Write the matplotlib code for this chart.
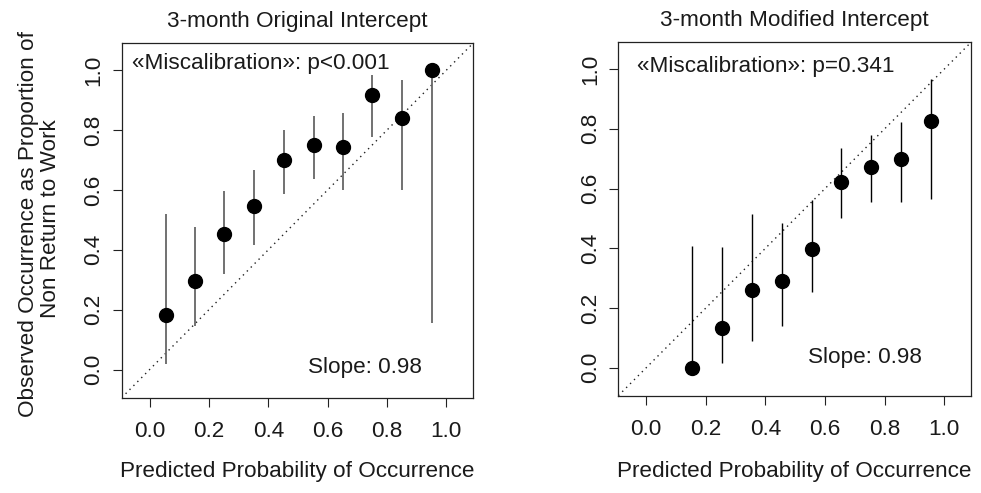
import matplotlib
matplotlib.use("Agg")
import matplotlib.pyplot as plt
import numpy as np

plt.rcParams['font.family'] = ['Liberation Sans', 'DejaVu Sans']

# ---- data ----
titles = ["3-month Original Intercept", "3-month Modified Intercept"]
pred_orig = [0.055, 0.153, 0.251, 0.352, 0.452, 0.555, 0.651, 0.751, 0.851, 0.952]
obs_orig = [0.182, 0.295, 0.452, 0.545, 0.699, 0.750, 0.744, 0.917, 0.839, 1.000]
lo_orig = [0.020, 0.147, 0.319, 0.416, 0.585, 0.635, 0.601, 0.777, 0.601, 0.157]
hi_orig = [0.520, 0.475, 0.597, 0.668, 0.799, 0.846, 0.858, 0.984, 0.968, 1.000]

pred_mod = [0.152, 0.253, 0.355, 0.455, 0.556, 0.653, 0.754, 0.855, 0.955]
obs_mod = [0.000, 0.133, 0.261, 0.289, 0.399, 0.622, 0.672, 0.699, 0.825]
lo_mod = [0.000, 0.015, 0.088, 0.140, 0.253, 0.501, 0.554, 0.554, 0.566]
hi_mod = [0.409, 0.405, 0.516, 0.484, 0.561, 0.735, 0.779, 0.823, 0.966]

misc_labels = ["\u00abMiscalibration\u00bb: p<0.001", "\u00abMiscalibration\u00bb: p=0.341"]
slope_labels = ["Slope: 0.98", "Slope: 0.98"]
ticks = [0.0, 0.2, 0.4, 0.6, 0.8, 1.0]
tick_labels = ["0.0", "0.2", "0.4", "0.6", "0.8", "1.0"]
xlabel = "Predicted Probability of Occurrence"
ylabel1 = "Observed Occurrence as Proportion of"
ylabel2 = "Non Return to Work"

W, H = 981, 493
fig = plt.figure(figsize=(W / 100, H / 100), dpi=100)
FS = 16.2

def px_rect(x0, y0, x1, y1):
    return [x0 / W, 1 - y1 / H, (x1 - x0) / W, (y1 - y0) / H]

axes = [fig.add_axes(px_rect(121.7, 43.3, 473, 397.7)),
        fig.add_axes(px_rect(618.3, 42.3, 971, 395.7))]

panels = [
    (pred_orig, obs_orig, lo_orig, hi_orig, '#666666', 1.3, (-0.059, 1.003), (0.533, -0.011)),
    (pred_mod, obs_mod, lo_mod, hi_mod, 'black', 1.0, (-0.030, 0.989), (0.543, 0.015)),
]

for i, (ax, (px, ob, lo, hi, ecol, elw, mpos, spos)) in enumerate(zip(axes, panels)):
    ax.set_xlim(-0.094, 1.09)
    ax.set_ylim(-0.094, 1.09)
    ax.axline((0, 0), slope=1, color='#222222', lw=1.0, linestyle=(0, (1, 3)), zorder=1)
    ax.vlines(px, lo, hi, color=ecol, lw=elw, zorder=2)
    ax.plot(px, ob, 'o', color='black', markersize=10, zorder=3)
    ax.set_xticks(ticks)
    ax.set_xticklabels(tick_labels)
    ax.set_yticks(ticks)
    ax.set_yticklabels(tick_labels)
    ax.tick_params(axis='both', direction='out', length=6.5, width=0.8,
                   colors='#222222', labelsize=FS, labelcolor='#1a1a1a')
    ax.tick_params(axis='x', pad=10)
    ax.tick_params(axis='y', pad=6, labelrotation=90)
    for lab in ax.get_yticklabels():
        lab.set_va('center')
    for s in ax.spines.values():
        s.set_linewidth(0.9)
        s.set_color('#222222')
    ax.set_title(titles[i], fontsize=FS, pad=11.5, color='#1a1a1a')
    ax.text(mpos[0], mpos[1], misc_labels[i], fontsize=FS, ha='left', va='baseline', color='#1a1a1a')
    ax.text(spos[0], spos[1], slope_labels[i], fontsize=FS, ha='left', va='baseline', color='#1a1a1a')
    bb = ax.get_position()
    fig.text(bb.x0 + bb.width / 2, 1 - 477.3 / H, xlabel, fontsize=FS,
             ha='center', va='baseline', color='#1a1a1a')

fig.text(34 / W, 1 - 224 / H, ylabel1, fontsize=FS, rotation=90, rotation_mode='anchor',
         ha='center', va='baseline', color='#1a1a1a')
fig.text(56 / W, 1 - 218.5 / H, ylabel2, fontsize=FS, rotation=90, rotation_mode='anchor',
         ha='center', va='baseline', color='#1a1a1a')

fig.savefig("out.png", dpi=100)
